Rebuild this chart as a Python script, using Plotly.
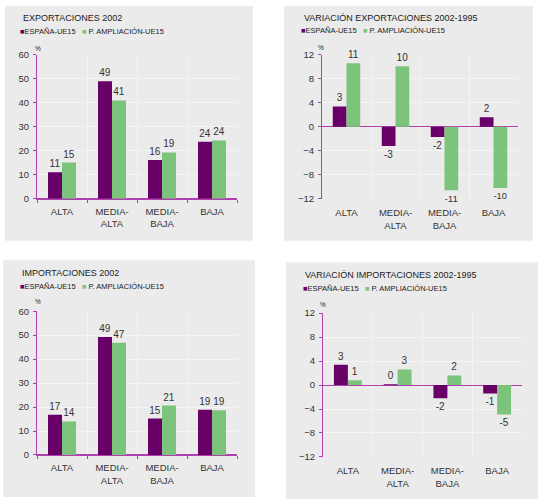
import plotly.graph_objects as go

W, H = 538, 504

categories = ["ALTA", "MEDIA-<br>ALTA", "MEDIA-<br>BAJA", "BAJA"]
series_names = ["ESPAÑA-UE15", "P. AMPLIACIÓN-UE15"]

exp2002_espana = [11.0, 49.0, 16.2, 23.8]
exp2002_ampl = [15.1, 41.0, 19.3, 24.3]

varexp_espana = [3.4, -3.2, -1.7, 1.6]
varexp_ampl = [10.6, 10.1, -10.6, -10.2]

imp2002_espana = [16.8, 49.2, 15.2, 18.9]
imp2002_ampl = [14.0, 46.8, 20.6, 18.7]

varimp_espana = [3.4, 0.1, -2.2, -1.4]
varimp_ampl = [0.8, 2.6, 1.6, -4.9]

titles = ["EXPORTACIONES 2002", "VARIACIÓN EXPORTACIONES 2002-1995",
          "IMPORTACIONES 2002", "VARIACIÓN IMPORTACIONES 2002-1995"]

PURPLE = "#680068"
GREEN = "#7cc47c"
AXIS = "#b040b0"
BG = "#ebebeb"
GRID = "#f5f5f5"
TXT = "#333333"
FONT = "Liberation Sans, Arial, sans-serif"

def px_x(x):
    return x / W

def px_y(y):
    return 1 - y / H

panels = [
    dict(data=(exp2002_espana, exp2002_ampl), rng=[0, 60], dt=10,
         px=(37, 237), py=(50, 197), bg=(5, 0, 253, 240),
         title=(21, 12), leg=(18, 26), pct=(33, 43)),
    dict(data=(varexp_espana, varexp_ampl), rng=[-12, 12], dt=4,
         px=(322, 518), py=(50, 197), bg=(284, 0, 533, 240),
         title=(302, 12), leg=(299, 25), pct=(316, 42)),
    dict(data=(imp2002_espana, imp2002_ampl), rng=[0, 60], dt=10,
         px=(37, 237), py=(312, 459), bg=(3, 260, 255, 502),
         title=(20, 273), leg=(18, 287), pct=(33, 302)),
    dict(data=(varimp_espana, varimp_ampl), rng=[-12, 12], dt=4,
         px=(323, 522), py=(314, 461), bg=(286, 262, 538, 504),
         title=(303, 275), leg=(301, 289), pct=(318, 305)),
]

fig = go.Figure()
shapes = []
annotations = []
layout = {}

for i, p in enumerate(panels):
    n = i + 1
    xa = "x" if n == 1 else f"x{n}"
    ya = "y" if n == 1 else f"y{n}"
    xkey = "xaxis" if n == 1 else f"xaxis{n}"
    ykey = "yaxis" if n == 1 else f"yaxis{n}"
    for vals, name, col in zip(p["data"], series_names, [PURPLE, GREEN]):
        fig.add_trace(go.Bar(
            x=categories, y=vals, name=name, marker_color=col,
            marker_line_width=0, xaxis=xa, yaxis=ya, showlegend=False,
            texttemplate="%{y:.0f}", textposition="outside",
            textfont=dict(size=10, color=TXT, family=FONT),
            cliponaxis=False, hoverinfo="x+y+name",
        ))
    symmetric = p["rng"][0] < 0
    layout[xkey] = dict(
        domain=[px_x(p["px"][0]), px_x(p["px"][1])], anchor=ya,
        type="category", tickson="boundaries",
        showgrid=True, gridcolor=GRID, gridwidth=1,
        showline=not symmetric, linecolor=AXIS, linewidth=1,
        ticks="" if symmetric else "outside", ticklen=3, tickcolor=AXIS,
        ticklabelstandoff=7 if symmetric else 4,
        tickfont=dict(size=9.5, color=TXT, family=FONT),
        fixedrange=True,
    )
    layout[ykey] = dict(
        domain=[px_y(p["py"][1]), px_y(p["py"][0])], anchor=xa,
        range=p["rng"], dtick=p["dt"], tick0=0,
        showgrid=True, gridcolor=GRID, gridwidth=1,
        showline=True, linecolor=AXIS, linewidth=1,
        zeroline=True, zerolinecolor=AXIS, zerolinewidth=1,
        ticks="outside", ticklen=3, tickcolor=AXIS,
        ticklabelstandoff=2,
        tickfont=dict(size=9.5, color=TXT, family=FONT),
        fixedrange=True,
    )
    if symmetric:
        okey = f"xaxis{n + 4}"
        ymid = (px_y(p["py"][1]) + px_y(p["py"][0])) / 2
        layout[okey] = dict(
            overlaying=xa, anchor="free", position=ymid,
            range=[-0.5, 3.5], tickmode="array",
            tickvals=[-0.5, 0.5, 1.5, 2.5, 3.5],
            showticklabels=False, showgrid=False, zeroline=False,
            showline=True, linecolor=AXIS, linewidth=1,
            ticks="outside", ticklen=3, tickcolor=AXIS, fixedrange=True,
        )
    bx0, by0, bx1, by1 = p["bg"]
    shapes.append(dict(type="rect", xref="paper", yref="paper",
                       x0=px_x(bx0), x1=px_x(bx1), y0=px_y(by1), y1=px_y(by0),
                       fillcolor=BG, line_width=0, layer="below"))
    annotations.append(dict(text=titles[i], xref="paper", yref="paper",
                            x=px_x(p["title"][0]), y=px_y(p["title"][1]),
                            xanchor="left", yanchor="middle", showarrow=False,
                            font=dict(size=9, color="#222", family=FONT)))
    leg_text = (f'<span style="color:{PURPLE}">■</span>{series_names[0]}'
                f'\u00a0\u00a0\u00a0<span style="color:{GREEN}">■</span>'
                f'\u00a0{series_names[1]}')
    annotations.append(dict(text=leg_text, xref="paper", yref="paper",
                            x=px_x(p["leg"][0]), y=px_y(p["leg"][1]),
                            xanchor="left", yanchor="middle", showarrow=False,
                            font=dict(size=7.5, color="#222", family=FONT)))
    annotations.append(dict(text="%", xref="paper", yref="paper",
                            x=px_x(p["pct"][0]), y=px_y(p["pct"][1]),
                            xanchor="left", yanchor="middle", showarrow=False,
                            font=dict(size=6.5, color="#222", family=FONT)))

fig.update_layout(
    width=W, height=H, margin=dict(l=0, r=0, t=0, b=0),
    paper_bgcolor="white", plot_bgcolor="rgba(0,0,0,0)",
    barmode="group", bargap=0.44, bargroupgap=0,
    shapes=shapes, annotations=annotations,
    font=dict(family=FONT, color=TXT),
    **layout,
)

fig.write_html("out.html", config={"displayModeBar": False})
